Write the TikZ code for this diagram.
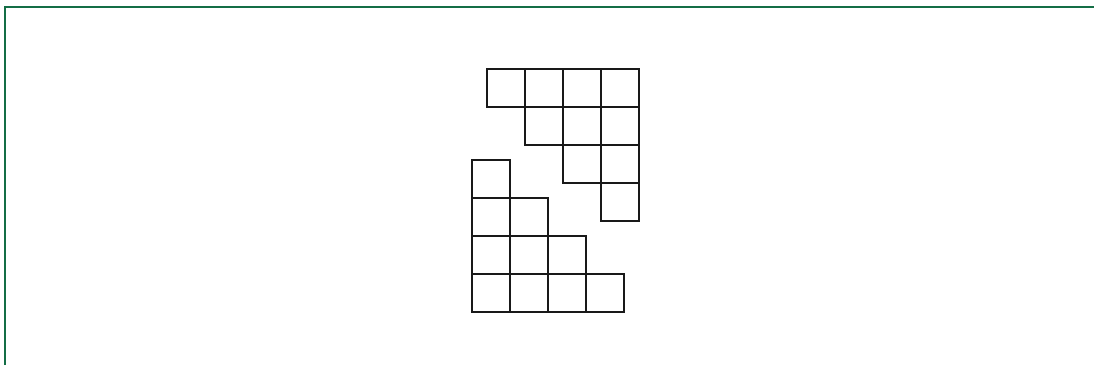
\documentclass[tikz,border=0pt]{standalone}
\definecolor{frame}{RGB}{20,110,70}
\begin{document}
\begin{tikzpicture}[x=1pt,y=-1pt,
  cell/.style={draw=black!90,line width=1.9pt},
  frameline/.style={draw=frame,line width=2pt}]
\useasboundingbox (0,0) rectangle (1095,365);
\draw[frameline] (4.5,365) -- (4.5,6.5) -- (1094,6.5);
% upper staircase
\foreach \r/\cs in {0/{0,1,2,3},1/{1,2,3},2/{2,3},3/{3}}{
  \foreach \c in \cs {
    \draw[cell] (487+38*\c,69+38*\r) rectangle ++(38,38);
  }
}
% lower staircase
\foreach \r/\cs in {0/{0},1/{0,1},2/{0,1,2},3/{0,1,2,3}}{
  \foreach \c in \cs {
    \draw[cell] (471.7+38*\c,160+38*\r) rectangle ++(38,38);
  }
}
\end{tikzpicture}
\end{document}
